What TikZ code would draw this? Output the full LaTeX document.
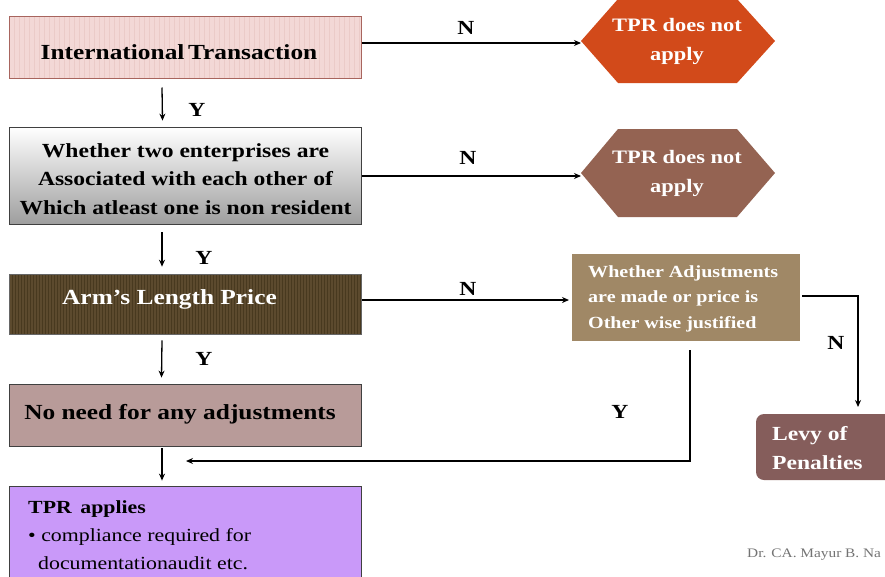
\documentclass[tikz,border=0pt]{standalone}
\usepackage{fontspec}
\setmainfont{Liberation Serif}[FakeStretch=1.18]
\usetikzlibrary{arrows.meta,calc}
\definecolor{bxone}{HTML}{F3D8D6}
\definecolor{bxonestripe}{HTML}{EBCBC8}
\definecolor{bxoneborder}{HTML}{A8655E}
\definecolor{hexone}{HTML}{D24A1A}
\definecolor{hextwo}{HTML}{946352}
\definecolor{armbrown}{HTML}{5C4A2E}
\definecolor{armstripe}{HTML}{48391F}
\definecolor{noneed}{HTML}{B89B99}
\definecolor{tprapp}{HTML}{C999F9}
\definecolor{adjbox}{HTML}{A08866}
\definecolor{levybox}{HTML}{855D5B}
\begin{document}
\begin{tikzpicture}[x=1pt,y=-1pt,
  arr/.style={-{Stealth[length=7pt,width=6pt]}, line width=1.3pt},
  lbl/.style={font=\bfseries\fontsize{20}{22}\selectfont},
  boxbase/.style={minimum width=352pt, inner sep=0pt, align=center},
  whitetxt/.style={text=white, font=\bfseries\fontsize{19}{29}\selectfont}
]
\useasboundingbox (0,0) rectangle (885,576);
\clip (0,0) rectangle (885,576);

% Box 1
\node[boxbase, minimum height=62pt, fill=bxone, draw=bxoneborder, line width=1pt,
  font=\bfseries\fontsize{21.5}{26}\selectfont,
  path picture={\foreach \i in {0,5,...,355}
    \draw[bxonestripe, line width=0.6pt] ([xshift=\i pt]path picture bounding box.south west) -- ([xshift=\i pt]path picture bounding box.north west);}]
  (b1) at (185,47) {\hspace*{-12pt}International\,Transaction\rule{0pt}{25pt}};

% Box 2
\node[boxbase, minimum height=97pt, top color=white, bottom color=black!38, draw=black!75, line width=0.8pt,
  font=\bfseries\fontsize{20}{28.5}\selectfont]
  (b2) at (185.5,175.5) {\rule{0pt}{21pt}Whether two enterprises are\\Associated with each other of\\Which atleast one is non resident};

% Box 3
\node[boxbase, minimum height=60pt, fill=armbrown, draw=black!60, line width=0.6pt, text=white,
  font=\bfseries\fontsize{21.5}{26}\selectfont,
  path picture={\foreach \i in {0,3,...,355}
    \draw[armstripe, line width=0.7pt] ([xshift=\i pt]path picture bounding box.south west) -- ([xshift=\i pt]path picture bounding box.north west);}]
  (b3) at (185.5,304) {\hspace*{-32pt}Arm’s Length Price\rule[-13pt]{0pt}{1pt}};

% Box 4
\node[boxbase, minimum height=62pt, fill=noneed, draw=black!75, line width=0.8pt,
  font=\bfseries\fontsize{21.5}{26}\selectfont]
  (b4) at (185,415) {\hspace*{-10pt}No need for any adjustments\rule[-7pt]{0pt}{1pt}};

% Box 5
\node[boxbase, minimum height=100pt, fill=tprapp, draw=black!75, line width=0.8pt] (b5) at (185,536) {};
\node[anchor=west, inner sep=0pt, align=left, font=\fontsize{18.5}{28}\selectfont] (b5t) at (28,535.5)
  {{\bfseries TPR\, applies}\\\textbullet\ compliance required for\\\hspace*{10pt}documentationaudit etc.};

% Hexagons
\fill[hexone] (581,41) -- (618,-1) -- (737,-1) -- (775,41) -- (737,83) -- (618,83) -- cycle;
\coordinate (h1tip) at (581,43);
\node[whitetxt, align=center] (h1) at (677,41.5) {TPR does not\\apply};

\fill[hextwo] (581,173) -- (618,129) -- (737,129) -- (775,173) -- (737,217) -- (618,217) -- cycle;
\coordinate (h2tip) at (581,176);
\node[whitetxt, align=center] (h2) at (677,173.5) {TPR does not\\apply};

% Box 6
\node[minimum width=228pt, minimum height=87pt, fill=adjbox, inner sep=0pt] (b6) at (686,297.5) {};
\node[anchor=west, inner sep=0pt, text=white, align=left, font=\bfseries\fontsize{17}{25.5}\selectfont]
  (b6t) at (588,298.5) {Whether Adjustments\\are made or price is\\Other wise justified};

% Box 7
\node[minimum width=150pt, minimum height=66pt, fill=levybox, rounded corners=8pt, inner sep=0pt] (b7) at (831,447) {};
\node[anchor=west, inner sep=0pt, text=white, align=left, font=\bfseries\fontsize{20}{29}\selectfont]
  (b7t) at (772,448.5) {Levy of\\Penalties};

% Vertical arrows
\draw[arr] ([shift={(-23,9)}]b1.south) -- ([shift={(-23,-6)}]b2.north);
\node[lbl] (y1) at (197,110) {Y};
\draw[arr] ([shift={(-23.5,8)}]b2.south) -- ([shift={(-23.5,-7)}]b3.north);
\node[lbl] (y2) at (204,258) {Y};
\draw[arr] ([shift={(-23.5,6)}]b3.south) -- ([shift={(-23.5,-6)}]b4.north);
\node[lbl] (y3) at (204,359) {Y};
\draw[arr] ([shift={(-23,2)}]b4.south) -- ([shift={(-23,-5)}]b5.north);

% Horizontal N arrows
\draw[arr] (b1.east |- h1tip) -- (h1tip);
\node[lbl] (n1) at (466,28) {N};
\draw[arr] (b2.east |- h2tip) -- (h2tip);
\node[lbl] (n2) at (468,158) {N};
\coordinate (b6in) at (569,300);
\draw[arr] (b3.east |- b6in) -- (b6in);
\node[lbl] (n3) at (468,289) {N};

% From box 6
\coordinate (c6a) at (802,296);
\coordinate (c6b) at (858,296);
\coordinate (c7top) at (858,407);
\draw[arr] (c6a) -- (c6b) -- (c7top);
\node[lbl] (n4) at (836,343) {N};

\coordinate (c6y) at (690,350);
\coordinate (c6y2) at (690,461);
\coordinate (cend) at (186,461);
\draw[arr] (c6y) -- (c6y2) -- (cend);
\node[lbl] (y4) at (620,412) {Y};

% Footer
\node[anchor=west, text=black!55, font=\fontsize{13}{16}\selectfont, inner sep=0pt] (foot) at (747,555) {Dr. CA. Mayur B. Na};
\end{tikzpicture}
\end{document}
